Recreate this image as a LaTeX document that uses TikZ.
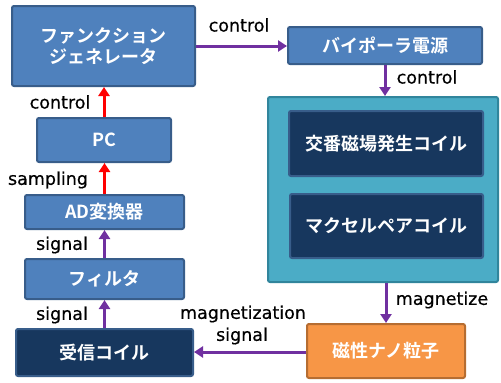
\documentclass[tikz,border=0pt]{standalone}
\usepackage{fontspec}
\setmainfont{DejaVu Sans}
\newfontfamily\lblfont[FakeBold=0.5]{DejaVu Sans}
\newfontfamily\jpfont{Noto Sans CJK JP Bold}
\usetikzlibrary{arrows.meta}
\definecolor{bluefill}{HTML}{4F81BD}
\definecolor{blueedge}{HTML}{385D8A}
\definecolor{navyfill}{HTML}{17375E}
\definecolor{navyedge}{HTML}{385D8A}
\definecolor{tealfill}{HTML}{4BACC6}
\definecolor{tealedge}{HTML}{31859C}
\definecolor{orgfill}{HTML}{F79646}
\definecolor{orgedge}{HTML}{B66D31}
\definecolor{purp}{HTML}{7030A0}
\tikzset{
  box/.style={draw, line width=2pt, rounded corners=2pt, text=white, align=center,
    font=\jpfont\fontsize{18}{21}\selectfont, inner sep=0pt},
  bluebox/.style={box, fill=bluefill, draw=blueedge},
  navybox/.style={box, fill=navyfill, draw=navyedge},
  tealbox/.style={box, fill=tealfill, draw=tealedge},
  orgbox/.style={box, fill=orgfill, draw=orgedge},
  parrow/.style={draw=purp, line width=3pt, -{Triangle[length=9pt,width=11pt]}},
  rarrow/.style={draw=red, line width=3pt, -{Triangle[length=9pt,width=11pt]}},
  lbl/.style={font=\lblfont\fontsize{17.5}{19}\selectfont, text=black, inner sep=0pt}
}
\begin{document}
\begin{tikzpicture}[x=1pt,y=-1pt]
\useasboundingbox (0,0) rectangle (501,383);
% boxes
\node[bluebox, minimum width=183pt, minimum height=80pt] (fg) at (103.5,46) {ファンクション\\ジェネレータ};
\node[bluebox, minimum width=194pt, minimum height=37pt] (bp) at (385,45.5) {バイポーラ電源};
\node[tealbox, minimum width=230pt, minimum height=185pt] (teal) at (383,189.5) {};
\node[navybox, minimum width=194pt, minimum height=65pt] (c1) at (386,143.5) {交番磁場発生コイル};
\node[navybox, minimum width=193pt, minimum height=64pt] (c2) at (386.5,226) {マクセルペアコイル};
\node[orgbox, minimum width=158pt, minimum height=54pt] (mnp) at (386,351) {磁性ナノ粒子};
\node[navybox, minimum width=177pt, minimum height=47pt] (rc) at (104.5,352.5) {受信コイル};
\node[bluebox, minimum width=159pt, minimum height=40pt] (filt) at (104.5,279) {フィルタ};
\node[bluebox, minimum width=159pt, minimum height=34pt] (ad) at (104.5,212) {AD変換器};
\node[bluebox, minimum width=134pt, minimum height=44pt] (pc) at (104,140) {PC};
% connectors
\coordinate (fgE) at (fg.east |- 0,46);
\coordinate (bpW) at (bp.west |- 0,46);
\draw[parrow] (fgE) -- (bpW);
\draw[parrow] (bp.south) -- (bp.south |- teal.north);
\draw[parrow] (mnp.north |- teal.south) -- (mnp.north);
\coordinate (mnpW) at (mnp.west |- 0,352);
\coordinate (rcE) at (rc.east |- 0,352);
\draw[parrow] (mnpW) -- (rcE);
\draw[parrow] (rc.north) -- (rc.north |- filt.south);
\draw[parrow] (filt.north) -- (filt.north |- ad.south);
\draw[rarrow] (ad.north) -- (ad.north |- pc.south);
\draw[rarrow] (pc.north) -- (pc.north |- fg.south);
% labels
\node[lbl] (l1) at (239,25) {control};
\node[lbl] (l2) at (427,77) {control};
\node[lbl] (l3) at (60,102) {control};
\node[lbl] (l4) at (48,180) {sampling};
\node[lbl] (l5) at (62,245) {signal};
\node[lbl] (l6) at (62,315) {signal};
\node[lbl] (l7) at (243,314) {magnetization};
\node[lbl] (l8) at (242,336) {signal};
\node[lbl] (l9) at (442,300) {magnetize};
\end{tikzpicture}
\end{document}
